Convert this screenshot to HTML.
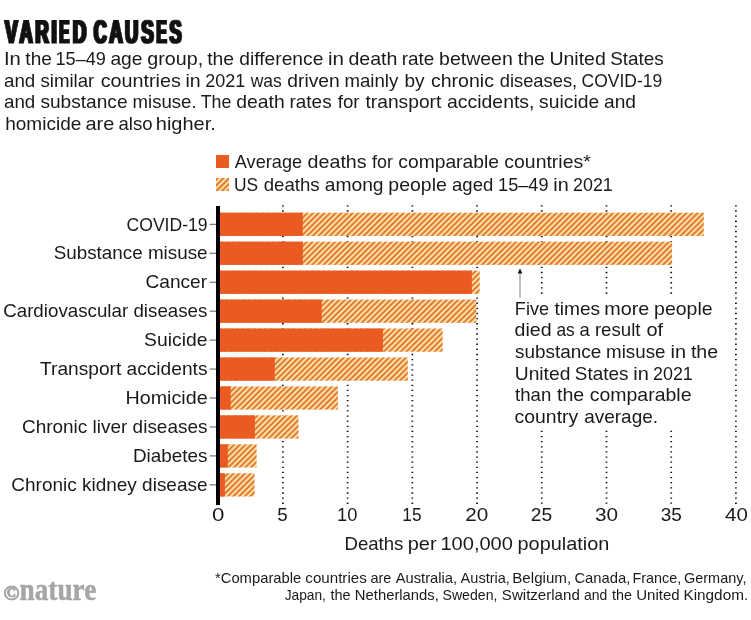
<!DOCTYPE html>
<html lang="en"><head><meta charset="utf-8"><title>Varied causes</title>
<style>html,body{margin:0;padding:0;background:#fff}svg{display:block}</style></head>
<body>
<svg width="751" height="620" viewBox="0 0 751 620">
<defs>
<pattern id="hatch" patternUnits="userSpaceOnUse" width="4" height="4" patternTransform="rotate(45)">
<rect x="0" y="0" width="4" height="4" fill="#FFDFA8"/>
<rect x="0" y="0" width="0.76" height="4" fill="#D5600E"/>
<rect x="3.24" y="0" width="0.76" height="4" fill="#D5600E"/>
</pattern>
<filter id="fat" x="-5%" y="-20%" width="110%" height="140%" color-interpolation-filters="sRGB"><feMorphology operator="dilate" radius="1 0"/></filter>
</defs>
<rect width="751" height="620" fill="#ffffff"/>
<g filter="url(#fat)"><text y="43.4" font-family='"Liberation Sans", sans-serif' font-weight="bold" font-size="32.7" fill="#111" stroke="#111" stroke-width="0.9" text-rendering="geometricPrecision"><tspan x="5.1" textLength="12.64" lengthAdjust="spacingAndGlyphs">V</tspan><tspan x="19.4" textLength="13.21" lengthAdjust="spacingAndGlyphs">A</tspan><tspan x="35.2" textLength="13.6" lengthAdjust="spacingAndGlyphs">R</tspan><tspan x="51.59" textLength="5.35" lengthAdjust="spacingAndGlyphs">I</tspan><tspan x="59.2" textLength="9.98" lengthAdjust="spacingAndGlyphs">E</tspan><tspan x="72.79" textLength="13.69" lengthAdjust="spacingAndGlyphs">D</tspan> <tspan x="93.81" textLength="12.99" lengthAdjust="spacingAndGlyphs">C</tspan><tspan x="109.2" textLength="13.46" lengthAdjust="spacingAndGlyphs">A</tspan><tspan x="124.9" textLength="13.2" lengthAdjust="spacingAndGlyphs">U</tspan><tspan x="141.32" textLength="12.49" lengthAdjust="spacingAndGlyphs">S</tspan><tspan x="156.4" textLength="10.13" lengthAdjust="spacingAndGlyphs">E</tspan><tspan x="169.62" textLength="12.12" lengthAdjust="spacingAndGlyphs">S</tspan></text></g>
<text y="64.90" font-family='"Liberation Sans", sans-serif' font-size="19.0" fill="#1a1a1a"><tspan x="3.98" textLength="16.86" lengthAdjust="spacingAndGlyphs">In</tspan> <tspan x="25.36" textLength="26.50" lengthAdjust="spacingAndGlyphs">the</tspan> <tspan x="55.50" textLength="50.38" lengthAdjust="spacingAndGlyphs">15–49</tspan> <tspan x="110.43" textLength="32.11" lengthAdjust="spacingAndGlyphs">age</tspan> <tspan x="147.31" textLength="55.82" lengthAdjust="spacingAndGlyphs">group,</tspan> <tspan x="207.16" textLength="26.92" lengthAdjust="spacingAndGlyphs">the</tspan> <tspan x="239.33" textLength="84.01" lengthAdjust="spacingAndGlyphs">difference</tspan> <tspan x="328.06" textLength="16.05" lengthAdjust="spacingAndGlyphs">in</tspan> <tspan x="348.42" textLength="49.01" lengthAdjust="spacingAndGlyphs">death</tspan> <tspan x="401.77" textLength="32.54" lengthAdjust="spacingAndGlyphs">rate</tspan> <tspan x="439.13" textLength="73.65" lengthAdjust="spacingAndGlyphs">between</tspan> <tspan x="517.70" textLength="27.39" lengthAdjust="spacingAndGlyphs">the</tspan> <tspan x="549.44" textLength="56.35" lengthAdjust="spacingAndGlyphs">United</tspan> <tspan x="610.15" textLength="53.61" lengthAdjust="spacingAndGlyphs">States</tspan></text>
<text y="86.70" font-family='"Liberation Sans", sans-serif' font-size="19.0" fill="#1a1a1a"><tspan x="3.95" textLength="31.34" lengthAdjust="spacingAndGlyphs">and</tspan> <tspan x="40.43" textLength="53.87" lengthAdjust="spacingAndGlyphs">similar</tspan> <tspan x="100.66" textLength="80.19" lengthAdjust="spacingAndGlyphs">countries</tspan> <tspan x="185.53" textLength="15.21" lengthAdjust="spacingAndGlyphs">in</tspan> <tspan x="205.20" textLength="40.00" lengthAdjust="spacingAndGlyphs">2021</tspan> <tspan x="250.63" textLength="31.07" lengthAdjust="spacingAndGlyphs">was</tspan> <tspan x="287.28" textLength="52.45" lengthAdjust="spacingAndGlyphs">driven</tspan> <tspan x="344.39" textLength="53.86" lengthAdjust="spacingAndGlyphs">mainly</tspan> <tspan x="404.51" textLength="20.12" lengthAdjust="spacingAndGlyphs">by</tspan> <tspan x="430.92" textLength="63.05" lengthAdjust="spacingAndGlyphs">chronic</tspan> <tspan x="499.77" textLength="77.38" lengthAdjust="spacingAndGlyphs">diseases,</tspan> <tspan x="581.59" textLength="80.58" lengthAdjust="spacingAndGlyphs">COVID-19</tspan></text>
<text y="108.30" font-family='"Liberation Sans", sans-serif' font-size="19.0" fill="#1a1a1a"><tspan x="3.95" textLength="31.34" lengthAdjust="spacingAndGlyphs">and</tspan> <tspan x="40.42" textLength="87.12" lengthAdjust="spacingAndGlyphs">substance</tspan> <tspan x="132.59" textLength="63.99" lengthAdjust="spacingAndGlyphs">misuse.</tspan> <tspan x="200.74" textLength="30.63" lengthAdjust="spacingAndGlyphs">The</tspan> <tspan x="236.33" textLength="48.43" lengthAdjust="spacingAndGlyphs">death</tspan> <tspan x="289.52" textLength="42.11" lengthAdjust="spacingAndGlyphs">rates</tspan> <tspan x="337.71" textLength="21.91" lengthAdjust="spacingAndGlyphs">for</tspan> <tspan x="365.51" textLength="75.82" lengthAdjust="spacingAndGlyphs">transport</tspan> <tspan x="446.92" textLength="87.58" lengthAdjust="spacingAndGlyphs">accidents,</tspan> <tspan x="539.12" textLength="60.11" lengthAdjust="spacingAndGlyphs">suicide</tspan> <tspan x="604.03" textLength="31.98" lengthAdjust="spacingAndGlyphs">and</tspan></text>
<text y="130.00" font-family='"Liberation Sans", sans-serif' font-size="19.0" fill="#1a1a1a"><tspan x="5.16" textLength="76.14" lengthAdjust="spacingAndGlyphs">homicide</tspan> <tspan x="85.50" textLength="28.91" lengthAdjust="spacingAndGlyphs">are</tspan> <tspan x="118.46" textLength="34.06" lengthAdjust="spacingAndGlyphs">also</tspan> <tspan x="155.80" textLength="59.95" lengthAdjust="spacingAndGlyphs">higher.</tspan></text>
<line x1="282.91" y1="205.22" x2="282.91" y2="503.93" stroke="#111" stroke-width="1.75" stroke-dasharray="1.35 3.776"/>
<line x1="347.63" y1="205.22" x2="347.63" y2="503.93" stroke="#111" stroke-width="1.75" stroke-dasharray="1.35 3.776"/>
<line x1="412.34" y1="205.22" x2="412.34" y2="503.93" stroke="#111" stroke-width="1.75" stroke-dasharray="1.35 3.776"/>
<line x1="477.06" y1="205.22" x2="477.06" y2="503.93" stroke="#111" stroke-width="1.75" stroke-dasharray="1.35 3.776"/>
<line x1="541.77" y1="205.22" x2="541.77" y2="293.76" stroke="#111" stroke-width="1.75" stroke-dasharray="1.35 3.776"/>
<line x1="541.77" y1="430.76" x2="541.77" y2="503.93" stroke="#111" stroke-width="1.75" stroke-dasharray="1.35 3.776"/>
<line x1="606.49" y1="205.22" x2="606.49" y2="293.76" stroke="#111" stroke-width="1.75" stroke-dasharray="1.35 3.776"/>
<line x1="606.49" y1="430.76" x2="606.49" y2="503.93" stroke="#111" stroke-width="1.75" stroke-dasharray="1.35 3.776"/>
<line x1="671.20" y1="205.22" x2="671.20" y2="293.76" stroke="#111" stroke-width="1.75" stroke-dasharray="1.35 3.776"/>
<line x1="671.20" y1="430.76" x2="671.20" y2="503.93" stroke="#111" stroke-width="1.75" stroke-dasharray="1.35 3.776"/>
<line x1="735.92" y1="205.22" x2="735.92" y2="503.93" stroke="#111" stroke-width="1.75" stroke-dasharray="1.35 3.776"/>
<rect x="218" y="212.70" width="485.80" height="23.25" fill="url(#hatch)"/>
<rect x="218" y="212.70" width="84.80" height="23.25" fill="#EA5B21"/>
<line x1="209.6" y1="224.32" x2="217" y2="224.32" stroke="#333" stroke-width="0.8"/>
<text x="126.52" y="230.52" font-family='"Liberation Sans", sans-serif' font-weight="normal" font-size="19.0" textLength="81.11" lengthAdjust="spacingAndGlyphs" fill="#1a1a1a">COVID-19</text>
<rect x="218" y="241.65" width="453.90" height="23.25" fill="url(#hatch)"/>
<rect x="218" y="241.65" width="84.80" height="23.25" fill="#EA5B21"/>
<line x1="209.6" y1="253.27" x2="217" y2="253.27" stroke="#333" stroke-width="0.8"/>
<text x="53.65" y="259.47" font-family='"Liberation Sans", sans-serif' font-weight="normal" font-size="19.0" textLength="153.92" lengthAdjust="spacingAndGlyphs" fill="#1a1a1a">Substance misuse</text>
<rect x="218" y="270.60" width="261.70" height="23.25" fill="url(#hatch)"/>
<rect x="218" y="270.60" width="253.90" height="23.25" fill="#EA5B21"/>
<line x1="209.6" y1="282.22" x2="217" y2="282.22" stroke="#333" stroke-width="0.8"/>
<text x="145.55" y="288.42" font-family='"Liberation Sans", sans-serif' font-weight="normal" font-size="19.0" textLength="61.52" lengthAdjust="spacingAndGlyphs" fill="#1a1a1a">Cancer</text>
<rect x="218" y="299.55" width="258.30" height="23.25" fill="url(#hatch)"/>
<rect x="218" y="299.55" width="103.70" height="23.25" fill="#EA5B21"/>
<line x1="209.6" y1="311.17" x2="217" y2="311.17" stroke="#333" stroke-width="0.8"/>
<text x="3.16" y="317.37" font-family='"Liberation Sans", sans-serif' font-weight="normal" font-size="19.0" textLength="204.28" lengthAdjust="spacingAndGlyphs" fill="#1a1a1a">Cardiovascular diseases</text>
<rect x="218" y="328.50" width="224.70" height="23.25" fill="url(#hatch)"/>
<rect x="218" y="328.50" width="164.90" height="23.25" fill="#EA5B21"/>
<line x1="209.6" y1="340.12" x2="217" y2="340.12" stroke="#333" stroke-width="0.8"/>
<text x="144.13" y="346.32" font-family='"Liberation Sans", sans-serif' font-weight="normal" font-size="19.0" textLength="63.44" lengthAdjust="spacingAndGlyphs" fill="#1a1a1a">Suicide</text>
<rect x="218" y="357.45" width="189.80" height="23.25" fill="url(#hatch)"/>
<rect x="218" y="357.45" width="56.80" height="23.25" fill="#EA5B21"/>
<line x1="209.6" y1="369.07" x2="217" y2="369.07" stroke="#333" stroke-width="0.8"/>
<text x="40.02" y="375.27" font-family='"Liberation Sans", sans-serif' font-weight="normal" font-size="19.0" textLength="167.45" lengthAdjust="spacingAndGlyphs" fill="#1a1a1a">Transport accidents</text>
<rect x="218" y="386.40" width="119.90" height="23.25" fill="url(#hatch)"/>
<rect x="218" y="386.40" width="12.70" height="23.25" fill="#EA5B21"/>
<line x1="209.6" y1="398.02" x2="217" y2="398.02" stroke="#333" stroke-width="0.8"/>
<text x="125.52" y="404.22" font-family='"Liberation Sans", sans-serif' font-weight="normal" font-size="19.0" textLength="82.13" lengthAdjust="spacingAndGlyphs" fill="#1a1a1a">Homicide</text>
<rect x="218" y="415.35" width="80.50" height="23.25" fill="url(#hatch)"/>
<rect x="218" y="415.35" width="36.90" height="23.25" fill="#EA5B21"/>
<line x1="209.6" y1="426.98" x2="217" y2="426.98" stroke="#333" stroke-width="0.8"/>
<text x="21.95" y="433.18" font-family='"Liberation Sans", sans-serif' font-weight="normal" font-size="19.0" textLength="185.55" lengthAdjust="spacingAndGlyphs" fill="#1a1a1a">Chronic liver diseases</text>
<rect x="218" y="444.30" width="38.60" height="23.25" fill="url(#hatch)"/>
<rect x="218" y="444.30" width="9.80" height="23.25" fill="#EA5B21"/>
<line x1="209.6" y1="455.92" x2="217" y2="455.92" stroke="#333" stroke-width="0.8"/>
<text x="132.99" y="462.12" font-family='"Liberation Sans", sans-serif' font-weight="normal" font-size="19.0" textLength="74.51" lengthAdjust="spacingAndGlyphs" fill="#1a1a1a">Diabetes</text>
<rect x="218" y="473.25" width="36.60" height="23.25" fill="url(#hatch)"/>
<rect x="218" y="473.25" width="6.90" height="23.25" fill="#EA5B21"/>
<line x1="209.6" y1="484.88" x2="217" y2="484.88" stroke="#333" stroke-width="0.8"/>
<text x="11.35" y="491.07" font-family='"Liberation Sans", sans-serif' font-weight="normal" font-size="19.0" textLength="196.19" lengthAdjust="spacingAndGlyphs" fill="#1a1a1a">Chronic kidney disease</text>
<rect x="216" y="206" width="4" height="299" fill="#000"/>
<text x="212.02" y="521.30" font-family='"Liberation Sans", sans-serif' font-weight="normal" font-size="19.0" textLength="12.38" lengthAdjust="spacingAndGlyphs" fill="#1a1a1a">0</text>
<text x="277.35" y="521.30" font-family='"Liberation Sans", sans-serif' font-weight="normal" font-size="19.0" textLength="10.42" lengthAdjust="spacingAndGlyphs" fill="#1a1a1a">5</text>
<text x="337.03" y="521.30" font-family='"Liberation Sans", sans-serif' font-weight="normal" font-size="19.0" textLength="20.36" lengthAdjust="spacingAndGlyphs" fill="#1a1a1a">10</text>
<text x="402.30" y="521.30" font-family='"Liberation Sans", sans-serif' font-weight="normal" font-size="19.0" textLength="19.23" lengthAdjust="spacingAndGlyphs" fill="#1a1a1a">15</text>
<text x="465.17" y="521.30" font-family='"Liberation Sans", sans-serif' font-weight="normal" font-size="19.0" textLength="23.01" lengthAdjust="spacingAndGlyphs" fill="#1a1a1a">20</text>
<text x="530.84" y="521.30" font-family='"Liberation Sans", sans-serif' font-weight="normal" font-size="19.0" textLength="21.37" lengthAdjust="spacingAndGlyphs" fill="#1a1a1a">25</text>
<text x="595.07" y="521.30" font-family='"Liberation Sans", sans-serif' font-weight="normal" font-size="19.0" textLength="23.10" lengthAdjust="spacingAndGlyphs" fill="#1a1a1a">30</text>
<text x="660.73" y="521.30" font-family='"Liberation Sans", sans-serif' font-weight="normal" font-size="19.0" textLength="21.17" lengthAdjust="spacingAndGlyphs" fill="#1a1a1a">35</text>
<text x="725.09" y="521.30" font-family='"Liberation Sans", sans-serif' font-weight="normal" font-size="19.0" textLength="22.77" lengthAdjust="spacingAndGlyphs" fill="#1a1a1a">40</text>
<text y="549.80" font-family='"Liberation Sans", sans-serif' font-size="19.0" fill="#1a1a1a"><tspan x="344.51" textLength="58.91" lengthAdjust="spacingAndGlyphs">Deaths</tspan> <tspan x="407.70" textLength="28.86" lengthAdjust="spacingAndGlyphs">per</tspan> <tspan x="440.45" textLength="72.50" lengthAdjust="spacingAndGlyphs">100,000</tspan> <tspan x="517.56" textLength="91.85" lengthAdjust="spacingAndGlyphs">population</tspan></text>
<rect x="216" y="155" width="13" height="13" fill="#EA5B21"/>
<rect x="216" y="178" width="13" height="13" fill="url(#hatch)"/>
<text y="168.00" font-family='"Liberation Sans", sans-serif' font-size="19.0" fill="#1a1a1a"><tspan x="234.80" textLength="67.36" lengthAdjust="spacingAndGlyphs">Average</tspan> <tspan x="307.61" textLength="58.97" lengthAdjust="spacingAndGlyphs">deaths</tspan> <tspan x="372.00" textLength="20.88" lengthAdjust="spacingAndGlyphs">for</tspan> <tspan x="398.33" textLength="100.55" lengthAdjust="spacingAndGlyphs">comparable</tspan> <tspan x="504.32" textLength="86.41" lengthAdjust="spacingAndGlyphs">countries*</tspan></text>
<text y="190.60" font-family='"Liberation Sans", sans-serif' font-size="19.0" fill="#1a1a1a"><tspan x="233.89" textLength="24.17" lengthAdjust="spacingAndGlyphs">US</tspan> <tspan x="263.76" textLength="55.80" lengthAdjust="spacingAndGlyphs">deaths</tspan> <tspan x="324.68" textLength="58.93" lengthAdjust="spacingAndGlyphs">among</tspan> <tspan x="388.33" textLength="58.51" lengthAdjust="spacingAndGlyphs">people</tspan> <tspan x="452.06" textLength="41.20" lengthAdjust="spacingAndGlyphs">aged</tspan> <tspan x="498.09" textLength="50.44" lengthAdjust="spacingAndGlyphs">15–49</tspan> <tspan x="553.31" textLength="15.45" lengthAdjust="spacingAndGlyphs">in</tspan> <tspan x="573.11" textLength="39.69" lengthAdjust="spacingAndGlyphs">2021</tspan></text>
<text y="314.75" font-family='"Liberation Sans", sans-serif' font-size="19.0" fill="#1a1a1a"><tspan x="514.85" textLength="34.26" lengthAdjust="spacingAndGlyphs">Five</tspan> <tspan x="554.41" textLength="45.74" lengthAdjust="spacingAndGlyphs">times</tspan> <tspan x="604.32" textLength="44.99" lengthAdjust="spacingAndGlyphs">more</tspan> <tspan x="654.08" textLength="58.56" lengthAdjust="spacingAndGlyphs">people</tspan></text>
<text y="336.35" font-family='"Liberation Sans", sans-serif' font-size="19.0" fill="#1a1a1a"><tspan x="514.62" textLength="37.07" lengthAdjust="spacingAndGlyphs">died</tspan> <tspan x="556.40" textLength="18.32" lengthAdjust="spacingAndGlyphs">as</tspan> <tspan x="579.56" textLength="10.27" lengthAdjust="spacingAndGlyphs">a</tspan> <tspan x="594.89" textLength="45.62" lengthAdjust="spacingAndGlyphs">result</tspan> <tspan x="646.47" textLength="16.65" lengthAdjust="spacingAndGlyphs">of</tspan></text>
<text y="358.00" font-family='"Liberation Sans", sans-serif' font-size="19.0" fill="#1a1a1a"><tspan x="514.93" textLength="86.31" lengthAdjust="spacingAndGlyphs">substance</tspan> <tspan x="606.08" textLength="59.37" lengthAdjust="spacingAndGlyphs">misuse</tspan> <tspan x="670.56" textLength="15.51" lengthAdjust="spacingAndGlyphs">in</tspan> <tspan x="690.91" textLength="27.28" lengthAdjust="spacingAndGlyphs">the</tspan></text>
<text y="379.55" font-family='"Liberation Sans", sans-serif' font-size="19.0" fill="#1a1a1a"><tspan x="514.76" textLength="55.61" lengthAdjust="spacingAndGlyphs">United</tspan> <tspan x="574.75" textLength="53.72" lengthAdjust="spacingAndGlyphs">States</tspan> <tspan x="633.30" textLength="15.57" lengthAdjust="spacingAndGlyphs">in</tspan> <tspan x="653.00" textLength="39.80" lengthAdjust="spacingAndGlyphs">2021</tspan></text>
<text y="401.20" font-family='"Liberation Sans", sans-serif' font-size="19.0" fill="#1a1a1a"><tspan x="515.12" textLength="36.12" lengthAdjust="spacingAndGlyphs">than</tspan> <tspan x="557.01" textLength="27.28" lengthAdjust="spacingAndGlyphs">the</tspan> <tspan x="589.72" textLength="101.76" lengthAdjust="spacingAndGlyphs">comparable</tspan></text>
<text y="422.60" font-family='"Liberation Sans", sans-serif' font-size="19.0" fill="#1a1a1a"><tspan x="514.62" textLength="63.56" lengthAdjust="spacingAndGlyphs">country</tspan> <tspan x="584.24" textLength="73.80" lengthAdjust="spacingAndGlyphs">average.</tspan></text>
<line x1="520" y1="272.5" x2="520" y2="297.7" stroke="#b9b9b9" stroke-width="1.8"/>
<path d="M520 268.3 L522.3 273.5 L517.7 273.5 Z" fill="#111"/>
<text y="582.90" font-family='"Liberation Sans", sans-serif' font-size="15.0" fill="#1a1a1a"><tspan x="214.98" textLength="86.29" lengthAdjust="spacingAndGlyphs">*Comparable</tspan> <tspan x="305.34" textLength="61.45" lengthAdjust="spacingAndGlyphs">countries</tspan> <tspan x="370.42" textLength="20.97" lengthAdjust="spacingAndGlyphs">are</tspan> <tspan x="395.70" textLength="61.41" lengthAdjust="spacingAndGlyphs">Australia,</tspan> <tspan x="460.60" textLength="49.31" lengthAdjust="spacingAndGlyphs">Austria,</tspan> <tspan x="512.29" textLength="58.86" lengthAdjust="spacingAndGlyphs">Belgium,</tspan> <tspan x="574.41" textLength="56.06" lengthAdjust="spacingAndGlyphs">Canada,</tspan> <tspan x="632.55" textLength="48.75" lengthAdjust="spacingAndGlyphs">France,</tspan> <tspan x="683.98" textLength="62.47" lengthAdjust="spacingAndGlyphs">Germany,</tspan></text>
<text y="600.30" font-family='"Liberation Sans", sans-serif' font-size="15.0" fill="#1a1a1a"><tspan x="284.69" textLength="41.21" lengthAdjust="spacingAndGlyphs">Japan,</tspan> <tspan x="330.48" textLength="20.20" lengthAdjust="spacingAndGlyphs">the</tspan> <tspan x="354.81" textLength="84.12" lengthAdjust="spacingAndGlyphs">Netherlands,</tspan> <tspan x="442.46" textLength="55.01" lengthAdjust="spacingAndGlyphs">Sweden,</tspan> <tspan x="501.87" textLength="77.92" lengthAdjust="spacingAndGlyphs">Switzerland</tspan> <tspan x="584.04" textLength="23.24" lengthAdjust="spacingAndGlyphs">and</tspan> <tspan x="612.08" textLength="19.99" lengthAdjust="spacingAndGlyphs">the</tspan> <tspan x="636.27" textLength="43.44" lengthAdjust="spacingAndGlyphs">United</tspan> <tspan x="683.47" textLength="64.70" lengthAdjust="spacingAndGlyphs">Kingdom.</tspan></text>
<text x="19.62" y="599.70" font-family='"Liberation Serif", serif' font-weight="bold" font-size="31" textLength="76.66" lengthAdjust="spacingAndGlyphs" fill="#a6a6a6" stroke="#a6a6a6" stroke-width="0.5">nature</text>
<text x="3.55" y="599.90" font-family='"Liberation Serif", serif' font-weight="bold" font-size="20.8" textLength="15.93" lengthAdjust="spacingAndGlyphs" fill="#a6a6a6" stroke="#a6a6a6" stroke-width="0.9">©</text>
</svg>
</body></html>
